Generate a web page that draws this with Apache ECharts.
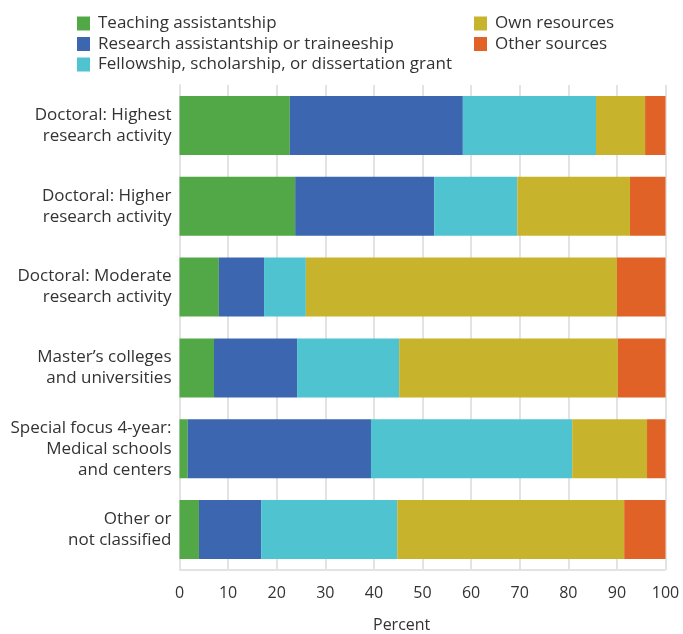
<!DOCTYPE html>
<html><head><meta charset="utf-8">
<script src="https://cdn.jsdelivr.net/npm/echarts@6/dist/echarts.min.js"></script>
<style>html,body{margin:0;padding:0;background:#fff}#c{width:683px;height:634px}</style>
</head><body><div id="c"></div>
<script>
const categories = [
  "Doctoral: Highest\nresearch activity",
  "Doctoral: Higher\nresearch activity",
  "Doctoral: Moderate\nresearch activity",
  "Master\u2019s colleges\nand universities",
  "Special focus 4-year:\nMedical schools\nand centers",
  "Other or\nnot classified"
];
const seriesNames = ["Teaching assistantship","Research assistantship or traineeship","Fellowship, scholarship, or dissertation grant","Own resources","Other sources"];
const teaching   = [22.7, 23.8, 8.1, 7.1, 1.7, 4.0];
const research   = [35.6, 28.6, 9.3, 17.1, 37.7, 12.8];
const fellowship = [27.4, 17.1, 8.6, 21.0, 41.4, 28.0];
const own        = [10.1, 23.2, 64.0, 45.0, 15.4, 46.7];
const other      = [4.2, 7.3, 10.0, 9.8, 3.8, 8.5];
const xTicks = [0,10,20,30,40,50,60,70,80,90,100];
const colors = ["#52a846","#3d66b1","#4fc3cf","#c8b42c","#e06226"];
const FONT = "Open Sans";
const dataArr = [teaching, research, fellowship, own, other];
const chart = echarts.init(document.getElementById('c'));
const legendCommon = {orient:'vertical', itemWidth:13, itemHeight:14, itemGap:3.5, icon:'rect', padding:0,
  textStyle:{fontFamily:FONT, fontSize:17, color:'#333', lineHeight:14, padding:[0,0,0,3]}, selectedMode:false};
chart.setOption({
  animation:false,
  color: colors,
  legend:[
    Object.assign({left:77, top:15, data:seriesNames.slice(0,3)}, legendCommon),
    Object.assign({left:474, top:15, data:seriesNames.slice(3)}, legendCommon)
  ],
  grid:{left:179.5, right:17.5, top:85, bottom:64, containLabel:false},
  xAxis:{type:'value', min:0, max:100, interval:10,
    axisLine:{show:false}, axisTick:{show:false},
    splitLine:{show:true, lineStyle:{color:'#e3e3e3', width:2}},
    axisLabel:{fontFamily:FONT, fontSize:16, color:'#333', margin:15,
      formatter:v=> xTicks.includes(v)? String(v):''}},
  yAxis:{type:'category', data:categories, inverse:true,
    axisLine:{show:true, lineStyle:{color:'#e3e3e3', width:2}}, axisTick:{show:false},
    axisLabel:{fontFamily:FONT, fontSize:17, color:'#333', lineHeight:21, margin:8, align:'right'}},
  graphic:[{type:'text', left:373, top:617, style:{text:'Percent', fontFamily:FONT, fontSize:16, fill:'#333'}},
           {type:'line', shape:{x1:179.5,y1:570,x2:665.5,y2:570}, style:{stroke:'#e3e3e3', lineWidth:2}}],
  series: seriesNames.map((n,i)=>({name:n, type:'bar', stack:'s', data:dataArr[i], barWidth:'73%',
    itemStyle:{color:colors[i]}}))
});
</script></body></html>
